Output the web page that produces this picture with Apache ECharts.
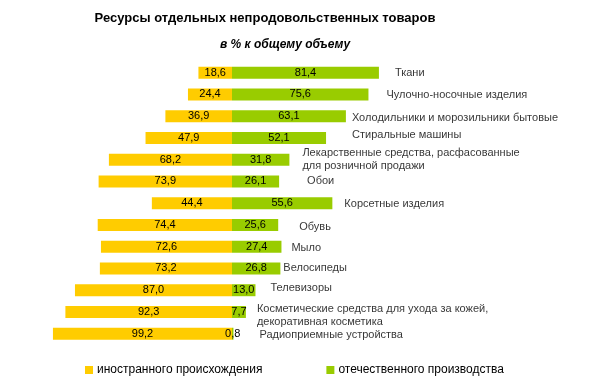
<!DOCTYPE html>
<html>
<head>
<meta charset="utf-8">
<script src="https://cdn.jsdelivr.net/npm/echarts@6/dist/echarts.min.js"></script>
<style>html,body{margin:0;padding:0;background:#fff}#c{width:600px;height:379px}</style>
</head>
<body>
<div id="c"></div>
<script>
var categories = [
  'Ткани',
  'Чулочно-носочные изделия',
  'Холодильники и морозильники бытовые',
  'Стиральные машины',
  'Лекарственные средства, расфасованные\nдля розничной продажи',
  'Обои',
  'Корсетные изделия',
  'Обувь',
  'Мыло',
  'Велосипеды',
  'Телевизоры',
  'Косметические средства для ухода за кожей,\nдекоративная косметика',
  'Радиоприемные устройства'
];
var foreign  = [18.6, 24.4, 36.9, 47.9, 68.2, 73.9, 44.4, 74.4, 72.6, 73.2, 87.0, 92.3, 99.2];
var domestic = [81.4, 75.6, 63.1, 52.1, 31.8, 26.1, 55.6, 25.6, 27.4, 26.8, 13.0, 7.7, 0.8];
var seriesNames = ['иностранного происхождения', 'отечественного производства'];

// label placement tweaks (style only)
var labelOffsets = [[16,0],[18,1],[6,2],[26,-3],[13,0],[28,0],[12,1],[21,2],[10,1],[3,0],[15,-2],[11,3],[26,1]];

function fmt(v){ return Math.abs(v).toFixed(1).replace('.', ','); }

var chart = echarts.init(document.getElementById('c'), null, {renderer:'canvas'});
var valueLabel = {show:true, position:'inside', color:'#000', fontSize:11, fontFamily:'Liberation Sans, Arial', formatter:function(p){return fmt(p.value);}};

chart.setOption({
  animation:false,
  backgroundColor:'#fff',
  title:[
    {text:'Ресурсы отдельных непродовольственных товаров', left:260, top:7, textAlign:'center',
     textStyle:{fontSize:13, fontWeight:'bold', color:'#000', fontFamily:'Liberation Sans, Arial'}},
    {text:'в % к общему объему', left:280, top:34, textAlign:'center',
     textStyle:{fontSize:12, fontWeight:'bold', fontStyle:'italic', color:'#000', fontFamily:'Liberation Sans, Arial'}}
  ],
  legend:{
    data:seriesNames, left:85, top:364, padding:0, itemWidth:8, itemHeight:8, itemGap:64, icon:'rect',
    textStyle:{fontSize:12, color:'#000', fontFamily:'Liberation Sans, Arial', padding:[0,0,0,-1]}
  },
  grid:{left:51.5, right:187.5, top:61.8, bottom:34.4},
  xAxis:{type:'value', min:-100, max:100, show:false},
  yAxis:{type:'category', data:categories, inverse:true, show:false},
  series:[
    {name:seriesNames[0], type:'bar', stack:'s', barWidth:12, itemStyle:{color:'#FFCC00'},
     data:foreign.map(function(v){return -v;}), label:valueLabel},
    {name:seriesNames[1], type:'bar', stack:'s', barWidth:12, itemStyle:{color:'#99CC00'},
     data:domestic, label:valueLabel},
    {name:'labels', type:'scatter', symbolSize:0, silent:true, clip:false, z:5,
     data:domestic.map(function(v,i){
       return {value:[v, categories[i]], label:{offset:labelOffsets[i]}};
     }),
     label:{show:true, position:'right', distance:0, color:'#000', fontSize:11, lineHeight:13,
       fontFamily:'Liberation Sans, Arial', align:'left',
       formatter:function(p){return p.value[1];}}
    }
  ]
});
</script>
</body>
</html>
